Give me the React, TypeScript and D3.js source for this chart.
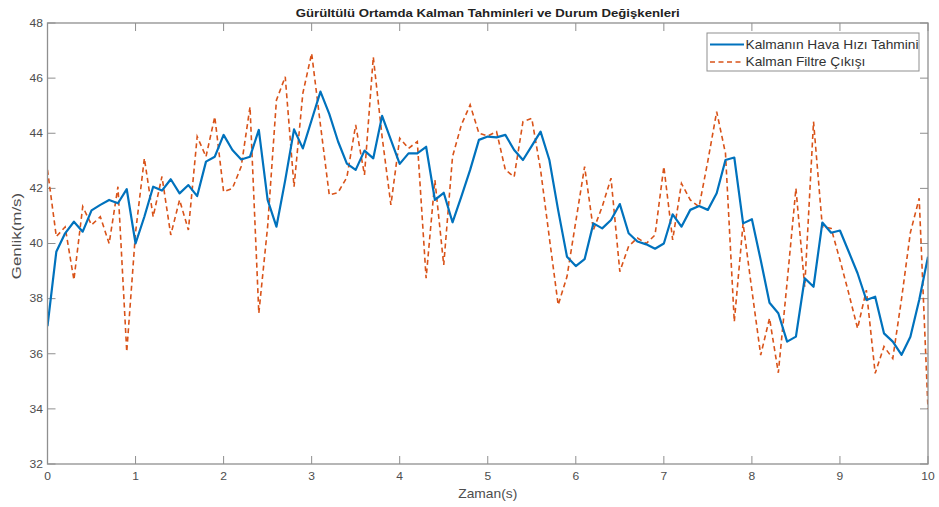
import React from "react";
import * as d3 from "d3";

const W = 939;
const H = 507;

const timeStep = 0.1;
const kalmanEstimate = [
  37.0, 39.7, 40.37, 40.79, 40.43, 41.2, 41.4, 41.58, 41.46, 41.97,
  40.0, 40.97, 42.06, 41.92, 42.33, 41.82, 42.12, 41.72, 42.97, 43.15,
  43.94, 43.39, 43.05, 43.15, 44.12, 41.58, 40.61, 42.3, 44.14, 43.45,
  44.48, 45.51, 44.7, 43.7, 42.9, 42.67, 43.37, 43.09, 44.63, 43.76,
  42.89, 43.27, 43.27, 43.51, 41.58, 41.84, 40.77, 41.7, 42.67, 43.76,
  43.88, 43.85, 43.94, 43.39, 43.03, 43.54, 44.06, 43.03, 41.2, 39.52,
  39.18, 39.43, 40.73, 40.55, 40.85, 41.43, 40.37, 40.07, 39.97, 39.81,
  40.0, 41.06, 40.61, 41.22, 41.36, 41.22, 41.82, 43.03, 43.12, 40.73,
  40.88, 39.4, 37.85, 37.47, 36.44, 36.62, 38.74, 38.43, 40.76, 40.39,
  40.47, 39.7, 38.92, 37.95, 38.07, 36.74, 36.44, 35.96, 36.62, 37.95,
  39.52,
];
const filterOutput = [
  42.67, 40.25, 40.6, 38.68, 41.34, 40.67, 40.97, 40.0, 42.06, 36.07,
  40.4, 43.09, 40.97, 42.43, 40.31, 41.58, 40.49, 43.88, 43.15, 44.6,
  41.88, 42.0, 42.79, 44.96, 37.47, 40.61, 45.2, 46.05, 42.06, 45.45,
  46.9, 44.3, 41.76, 41.85, 42.4, 44.3, 42.49, 46.77, 43.88, 41.4,
  43.82, 43.45, 43.7, 38.74, 42.3, 39.22, 43.15, 44.3, 45.03, 44.0,
  43.9, 44.06, 42.67, 42.42, 44.42, 44.54, 42.67, 40.2, 37.77, 38.8,
  40.8, 42.79, 40.49, 41.34, 42.37, 38.98, 39.9, 40.2, 40.0, 40.31,
  42.79, 40.13, 42.18, 41.58, 41.33, 43.0, 44.78, 43.27, 37.16, 40.73,
  38.3, 35.95, 37.29, 35.31, 38.6, 42.0, 38.43, 44.42, 40.61, 40.55,
  39.4, 38.19, 36.92, 38.31, 35.29, 36.26, 35.83, 38.0, 40.4, 41.64,
  34.0,
];
const xTicks = [0, 1, 2, 3, 4, 5, 6, 7, 8, 9, 10];
const yTicks = [32, 34, 36, 38, 40, 42, 44, 46, 48];
const seriesNames = ["Kalmanın Hava Hızı Tahmini", "Kalman Filtre Çıkışı"];
const title = "Gürültülü Ortamda Kalman Tahminleri ve Durum Değişkenleri";
const xLabel = "Zaman(s)";
const yLabel = "Genlik(m/s)";

const M = { left: 47.5, right: 928, top: 23, bottom: 464 };
const BLUE = "#0072BD";
const ORANGE = "#D95319";
const AXIS = "#8f8f8f";
const TEXT = "#4d4d4d";
const FONT = "Arial, 'Liberation Sans', Helvetica, sans-serif";

function SText(props: {
  x: number;
  y: number;
  sx?: number;
  rotate?: number;
  anchor?: "start" | "middle" | "end";
  size: number;
  fill?: string;
  weight?: string;
  children: React.ReactNode;
}) {
  const { x, y, sx = 1, rotate = 0, anchor = "start", size, fill = TEXT, weight = "normal" } = props;
  return (
    <text
      transform={`translate(${x},${y}) rotate(${rotate}) scale(${sx},1)`}
      textAnchor={anchor}
      fontSize={size}
      fill={fill}
      fontWeight={weight}
    >
      {props.children}
    </text>
  );
}

export default function App() {
  const x = d3.scaleLinear().domain([0, 10]).range([M.left, M.right]);
  const y = d3.scaleLinear().domain([32, 48]).range([M.bottom, M.top]);
  const line = d3
    .line<number>()
    .x((_, i) => x(i * timeStep))
    .y((d) => y(d));
  const tick = 8;

  return (
    <svg
      width={W}
      height={H}
      viewBox={`0 0 ${W} ${H}`}
      style={{ position: "absolute", left: 0, top: 0, background: "#fff" }}
      fontFamily={FONT}
    >
      <defs>
        <clipPath id="plotClip">
          <rect x={M.left} y={M.top} width={M.right - M.left} height={M.bottom - M.top} />
        </clipPath>
      </defs>
      <rect x={0} y={0} width={W} height={H} fill="#fff" />

      {/* ticks */}
      <g stroke={AXIS} strokeWidth={1}>
        {xTicks.map((t) => (
          <g key={"xt" + t}>
            <line x1={x(t)} x2={x(t)} y1={M.bottom} y2={M.bottom - tick} />
            <line x1={x(t)} x2={x(t)} y1={M.top} y2={M.top + tick} />
          </g>
        ))}
        {yTicks.map((t) => (
          <g key={"yt" + t}>
            <line x1={M.left} x2={M.left + tick} y1={y(t)} y2={y(t)} />
            <line x1={M.right} x2={M.right - tick} y1={y(t)} y2={y(t)} />
          </g>
        ))}
      </g>

      {/* data */}
      <g clipPath="url(#plotClip)">
        <path
          d={line(filterOutput) || ""}
          fill="none"
          stroke={ORANGE}
          strokeWidth={1.6}
          strokeDasharray="5,3.5"
        />
        <path d={line(kalmanEstimate) || ""} fill="none" stroke={BLUE} strokeWidth={2.2} strokeLinejoin="round" />
      </g>

      {/* box */}
      <rect
        x={M.left}
        y={M.top}
        width={M.right - M.left}
        height={M.bottom - M.top}
        fill="none"
        stroke={AXIS}
        strokeWidth={1.3}
      />

      {/* tick labels */}
      {xTicks.map((t) => (
        <SText key={"xl" + t} x={x(t)} y={M.bottom + 15.5} anchor="middle" size={10.5} sx={1.15}>
          {t}
        </SText>
      ))}
      {yTicks.map((t) => (
        <SText key={"yl" + t} x={M.left - 4.5} y={y(t) + 3.8} anchor="end" size={10.5} sx={1.15}>
          {t}
        </SText>
      ))}

      <SText x={(M.left + M.right) / 2} y={498} anchor="middle" size={12} sx={1.15}>
        {xLabel}
      </SText>
      <SText x={21} y={236} rotate={-90} anchor="middle" size={13} sx={1.3}>
        {yLabel}
      </SText>
      <SText x={(M.left + M.right) / 2} y={17} anchor="middle" size={11} sx={1.2} weight="bold" fill="#222">
        {title}
      </SText>

      {/* legend */}
      <g>
        <rect x={707} y={33} width={212} height={38} fill="#fff" stroke={AXIS} strokeWidth={1} />
        <line x1={710} x2={744} y1={44.5} y2={44.5} stroke={BLUE} strokeWidth={2.2} />
        <line x1={710} x2={744} y1={62} y2={62} stroke={ORANGE} strokeWidth={1.6} strokeDasharray="5,3.5" />
        <SText x={745.5} y={48.5} size={12.5} sx={1.1} fill="#333">
          {seriesNames[0]}
        </SText>
        <SText x={745.5} y={66} size={12.5} sx={1.1} fill="#333">
          {seriesNames[1]}
        </SText>
      </g>
    </svg>
  );
}
